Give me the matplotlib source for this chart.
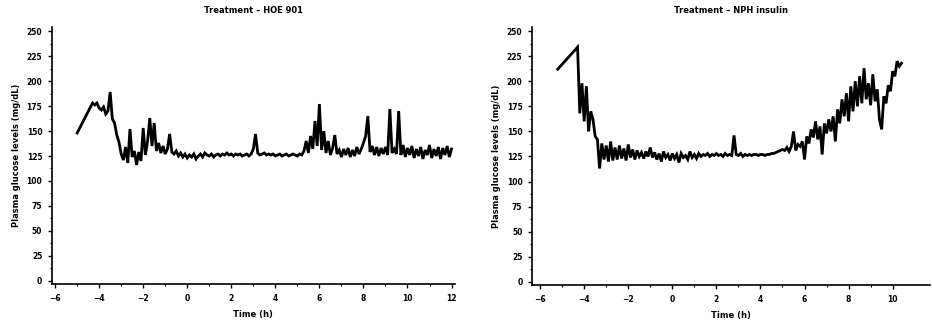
"""
Plasma glucose profiles, HOE 901 vs NPH insulin
"""

import matplotlib.pyplot as plt
import numpy as np

# sparse readings before continuous sampling starts
hoe_start_t = [-5.0, -4.3]
hoe_start_v = [148, 178]
npk_start_t = [-5.2, -4.3]
npk_start_v = [212, 234]

# continuous readings, every 0.1 h from -4.2 h
sample_step = 0.1
hoe_first = -4.2
hoe_glucose = [
    176, 178, 173, 171, 174, 167, 170, 189, 162, 158, 146, 139, 127, 121, 134, 118,
    152, 124, 130, 116, 129, 120, 153, 126, 140, 163, 135, 158, 130, 138, 128, 135,
    127, 132, 147, 129, 127, 130, 125, 128, 124, 127, 123, 126, 124, 127, 122, 125,
    127, 124, 128, 126, 125, 127, 124, 126, 127, 125, 127, 126, 128, 126, 127, 125,
    127, 126, 127, 125, 126, 127, 125, 127, 132, 147, 128, 126, 127, 128, 126, 127,
    126, 127, 125, 126, 127, 125, 126, 127, 125, 126, 127, 126, 125, 127, 126, 130,
    140, 128, 145, 132, 160, 135, 177, 131, 150, 128, 140, 126, 133, 146, 127, 131,
    124, 132, 126, 133, 124, 131, 125, 134, 127, 132, 138, 145, 165, 129, 135, 126,
    134, 125, 133, 127, 134, 126, 172, 128, 132, 127, 170, 126, 136, 124, 133, 126,
    135, 123, 132, 125, 134, 122, 131, 126, 136, 123, 132, 125, 134, 122, 133, 126,
    135, 124, 132,
]
npk_first = -4.2
npk_glucose = [
    168, 198, 160, 195, 150, 170, 162, 145, 142, 113, 138, 122, 136, 120, 140, 121,
    134, 122, 136, 123, 133, 121, 137, 124, 132, 122, 131, 125, 129, 123, 130, 125,
    134, 124, 129, 122, 128, 120, 130, 124, 127, 121, 128, 123, 127, 119, 128, 124,
    126, 122, 130, 124, 127, 123, 128, 125, 127, 126, 128, 125, 127, 126, 128, 126,
    127, 125, 128, 126, 127, 126, 146, 127, 126, 128, 125, 127, 126, 127, 126, 127,
    127, 126, 127, 127, 126, 127, 127, 128, 128, 129, 130, 131, 132, 131, 134, 130,
    135, 150, 131, 137, 135, 140, 122, 145, 138, 152, 144, 160, 142, 155, 127, 158,
    148, 162, 150, 165, 140, 172, 158, 182, 165, 188, 160, 195, 170, 200, 175, 205,
    178, 213, 182, 198, 176, 207, 180, 192, 162, 152, 185, 178, 196, 190, 210, 205,
    220, 215, 218,
]

panels = [
    ("Treatment \u2013 HOE 901", hoe_start_t, hoe_start_v, hoe_first, hoe_glucose,
     [0.0558, 0.129, 0.432, 0.788], (-6.14, 12.14), np.arange(-6, 13, 2)),
    ("Treatment \u2013 NPH insulin", npk_start_t, npk_start_v, npk_first, npk_glucose,
     [0.571, 0.126, 0.427, 0.791], (-6.36, 11.7), np.arange(-6, 11, 2)),
]
y_ticks = np.arange(0, 251, 25)

fig = plt.figure(figsize=(9.32, 3.26), dpi=100)
for title, t0, v0, first, vals, rect, xlim, xticks in panels:
    ax = fig.add_axes(rect)
    t = first + sample_step * np.arange(len(vals))
    ax.plot(list(t0) + list(t), list(v0) + list(vals), color='black', lw=2.0,
            solid_joinstyle='miter')
    ax.set_xlim(*xlim)
    ax.set_ylim(-3, 254)
    ax.set_xticks(xticks)
    ax.set_yticks(y_ticks)
    ax.set_xticks(np.arange(xticks[0] + 1, xticks[-1], 2), minor=True)
    ax.set_yticks(np.arange(12.5, 250, 25), minor=True)
    ax.tick_params(which='major', direction='out', length=3, width=1,
                   labelsize=5.5, pad=4)
    ax.tick_params(which='minor', direction='out', length=1.5, width=0.8)
    for lab in ax.get_xticklabels() + ax.get_yticklabels():
        lab.set_fontweight('bold')
    ax.spines['top'].set_visible(False)
    ax.spines['right'].set_visible(False)
    ax.spines['left'].set_linewidth(1.2)
    ax.spines['bottom'].set_linewidth(1.2)
    ax.set_title(title, fontsize=6, weight='bold', pad=10)
    ax.set_xlabel('Time (h)', fontsize=6, weight='bold', labelpad=5)
    ax.set_ylabel('Plasma glucose levels (mg/dL)', fontsize=6, weight='bold', labelpad=4)

plt.savefig('out.png', dpi=100)
plt.close()
